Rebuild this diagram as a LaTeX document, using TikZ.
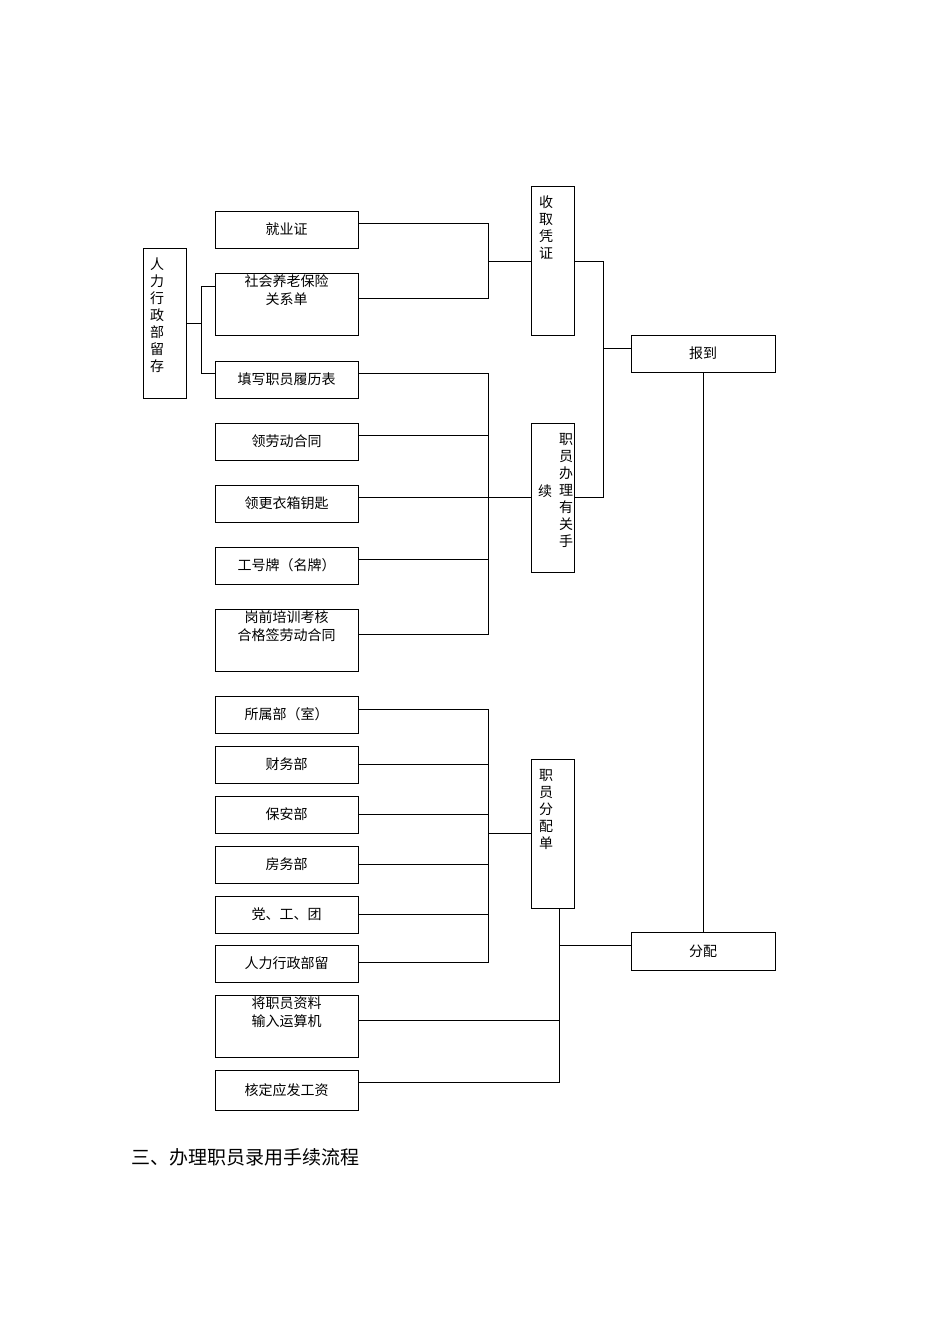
\documentclass[tikz,border=0pt]{standalone}
\usepackage{fontspec}
\newfontfamily\cjk{Noto Sans CJK SC}
\begin{document}
\begin{tikzpicture}[x=1pt,y=-1pt,
 bx/.style={draw,line width=0.9pt,inner sep=0pt,align=center,font=\cjk\fontsize{14}{18}\selectfont},
 ln/.style={line width=0.9pt},
 vt/.style={font=\cjk\fontsize{14}{17}\selectfont,align=center,inner sep=0pt,anchor=north}]
\useasboundingbox (0,0) rectangle (950,1344);
\def\B#1#2#3#4{\node[bx,minimum width=143pt,minimum height=#3pt] (#1) at (286.5,#2) {#4};}
\B{a}{229.5}{37}{就业证}
\B{b}{304}{62}{社会养老保险\\关系单\\[10pt]}
\B{c}{379.5}{37}{填写职员履历表}
\B{d}{441.5}{37}{领劳动合同}
\B{e}{503.5}{37}{领更衣箱钥匙}
\B{f}{565.5}{37}{工号牌（名牌）}
\B{g}{640}{62}{岗前培训考核\\合格签劳动合同\\[10pt]}
\B{h}{714.5}{37}{所属部（室）}
\B{i}{764.5}{37}{财务部}
\B{j}{814.5}{37}{保安部}
\B{k}{864.5}{37}{房务部}
\B{l}{914.5}{37}{党、工、团}
\B{m}{963.5}{37}{人力行政部留}
\B{n}{1026}{62}{将职员资料\\输入运算机\\[10pt]}
\B{o}{1090}{40}{核定应发工资}
\node[bx,minimum width=43pt,minimum height=150pt] (hr) at (164.5,323) {};
\node[vt] at (157,258) {人\\力\\行\\政\\部\\留\\存};
\node[bx,minimum width=43pt,minimum height=149pt] (sq) at (552.5,260.5) {};
\node[vt] at (546,196) {收\\取\\凭\\证};
\node[bx,minimum width=43pt,minimum height=149pt] (zb) at (552.5,497.5) {};
\node[vt] at (566,433) {职\\员\\办\\理\\有\\关\\手};
\node[vt] at (545,485) {续};
\node[bx,minimum width=43pt,minimum height=149pt] (fp) at (552.5,833.5) {};
\node[vt] at (546,769) {职\\员\\分\\配\\单};
\node[bx,minimum width=144pt,minimum height=37pt] (bd) at (703,353.5) {报到};
\node[bx,minimum width=144pt,minimum height=38pt] (fpd) at (703,951) {分配};
\node[anchor=west,inner sep=0pt,font=\cjk\fontsize{19}{22}\selectfont] (t) at (131,1157) {三、办理职员录用手续流程};
% group 1
\draw[ln] (hr.east|-0,323) -- (201,323);
\draw[ln] (b.west|-0,286) -| (201,373) -- (c.west|-0,373);
\draw[ln] (a.east|-0,223) -| (488,298) -- (b.east|-0,298);
\draw[ln] (488,261) -- (sq.west|-0,261);
\draw[ln] (c.east|-0,373) -| (488,634) -- (g.east|-0,634);
\foreach \y/\n in {435/d,559/f} \draw[ln] (\n.east|-0,\y) -- (488,\y);
\draw[ln] (e.east|-0,497) -- (zb.west|-0,497);
\draw[ln] (sq.east|-0,261) -| (603,497) -- (zb.east|-0,497);
\draw[ln] (603,348) -- (bd.west|-0,348);
% group 3
\draw[ln] (h.east|-0,709) -| (488,962) -- (m.east|-0,962);
\foreach \y/\n in {764/i,814/j,864/k,914/l} \draw[ln] (\n.east|-0,\y) -- (488,\y);
\draw[ln] (488,833) -- (fp.west|-0,833);
\draw[ln] (559,908) -- (559,1082) -- (o.east|-0,1082);
\draw[ln] (n.east|-0,1020) -- (559,1020);
\draw[ln] (559,945) -- (fpd.west|-0,945);
\draw[ln] (bd.south) -- (fpd.north);
\end{tikzpicture}
\end{document}
